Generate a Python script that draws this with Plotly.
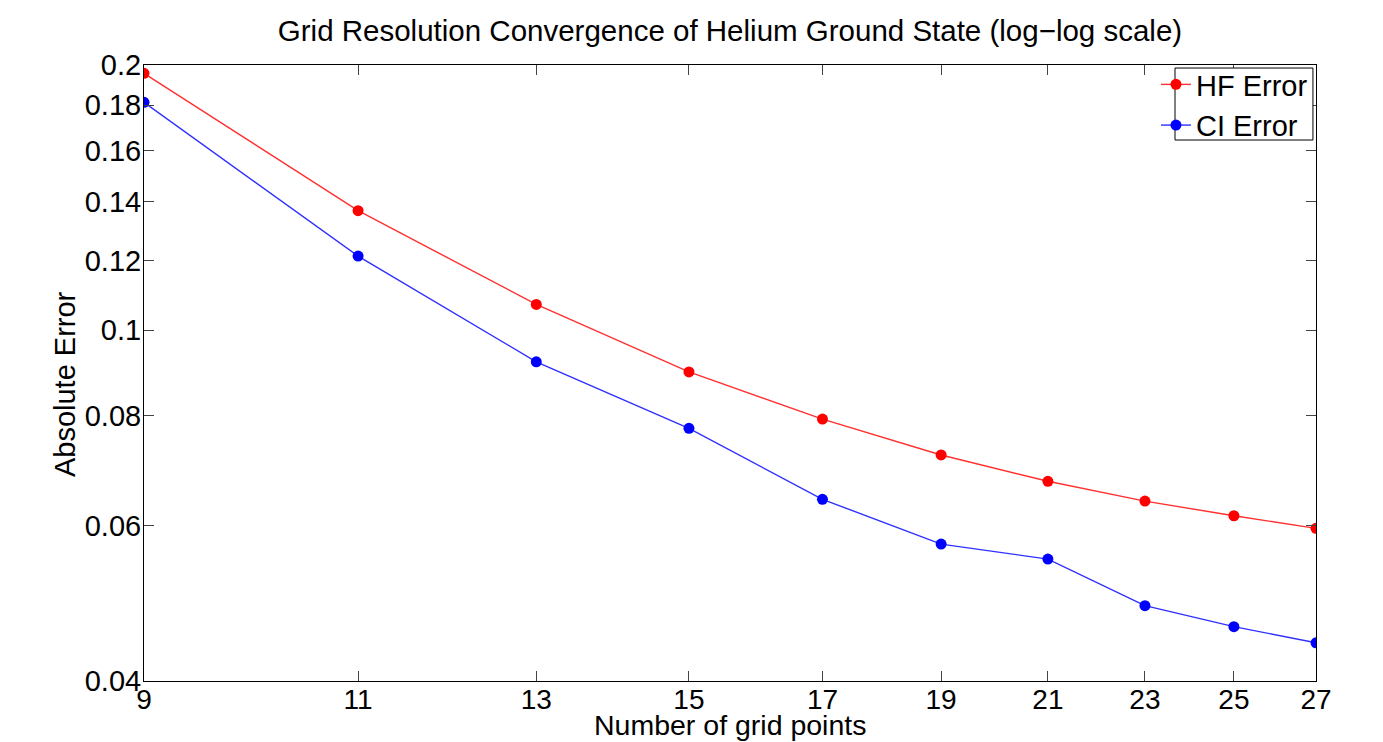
import plotly.graph_objects as go
import numpy as np

grid_points = [9, 11, 13, 15, 17, 19, 21, 23, 25, 27]
hf_error = [0.1957, 0.1367, 0.1070, 0.0897, 0.0793, 0.0722, 0.0674, 0.0640, 0.0616, 0.0596]
ci_error = [0.1814, 0.1214, 0.0921, 0.0774, 0.0643, 0.0572, 0.0550, 0.0487, 0.0461, 0.0442]
x_ticks = [9, 11, 13, 15, 17, 19, 21, 23, 25, 27]
y_ticks = [0.04, 0.06, 0.08, 0.1, 0.12, 0.14, 0.16, 0.18, 0.2]
y_ticklabels = ["0.04", "0.06", "0.08", "0.1", "0.12", "0.14", "0.16", "0.18", "0.2"]

FONT = "Liberation Sans, Arial, Helvetica, sans-serif"
FS = 29

fig = go.Figure()
fig.add_trace(go.Scatter(x=grid_points, y=hf_error, mode="lines+markers", name="HF Error",
                         line=dict(color="#ff3030", width=1.4),
                         marker=dict(color="#ff0000", size=11)))
fig.add_trace(go.Scatter(x=grid_points, y=ci_error, mode="lines+markers", name="CI Error",
                         line=dict(color="#3030ff", width=1.4),
                         marker=dict(color="#0000ff", size=11)))

fig.update_layout(
    width=1383, height=742,
    margin=dict(l=136, r=75, t=57, b=69, autoexpand=False),
    paper_bgcolor="white", plot_bgcolor="white",
    font=dict(family=FONT, color="black"),
    title=dict(text="Grid Resolution Convergence of Helium Ground State (log\u2212log scale)",
               x=0.5, xref="paper", xanchor="center", y=1 - 23 / 742, yanchor="middle",
               font=dict(size=29.5, family=FONT, color="black")),
    legend=dict(x=0.9974, y=1.0097, xanchor="right", yanchor="top",
                borderwidth=0, bgcolor="rgba(0,0,0,0)",
                font=dict(size=FS, family=FONT), tracegroupgap=0,
                itemwidth=30),
    showlegend=True,
    shapes=[
        dict(type="rect", xref="paper", yref="paper", x0=0.8797, x1=0.9974, y0=0.8782, y1=0.9951,
             line=dict(color="black", width=1), fillcolor="white", layer="above"),
    ],
    annotations=[
        dict(text="Number of grid points", xref="paper", yref="paper", x=0.5, y=-0.071,
             xanchor="center", yanchor="middle", showarrow=False,
             font=dict(size=28.5, family=FONT, color="black")),
        dict(text="Absolute Error", xref="paper", yref="paper", x=-0.0674, y=0.482,
             xanchor="center", yanchor="middle", showarrow=False, textangle=-90,
             font=dict(size=FS, family=FONT, color="black")),
    ],
)
fig.update_xaxes(type="log", range=[np.log10(9), np.log10(27)],
                 tickvals=x_ticks, ticktext=[str(v) for v in x_ticks],
                 ticks="inside", ticklen=10, tickwidth=1, tickcolor="#444",
                 showline=True, linecolor="black", linewidth=1, mirror="ticks",
                 showgrid=False, zeroline=False, ticklabelstandoff=-7,
                 tickfont=dict(size=28, family=FONT))
fig.update_yaxes(type="log", range=[np.log10(0.04), np.log10(0.2)],
                 tickvals=y_ticks, ticktext=y_ticklabels,
                 ticks="inside", ticklen=10, tickwidth=1, tickcolor="#444",
                 showline=True, linecolor="black", linewidth=1, mirror="ticks",
                 showgrid=False, zeroline=False, ticklabelstandoff=-4,
                 tickfont=dict(size=FS, family=FONT))

fig.write_html("out.html")
